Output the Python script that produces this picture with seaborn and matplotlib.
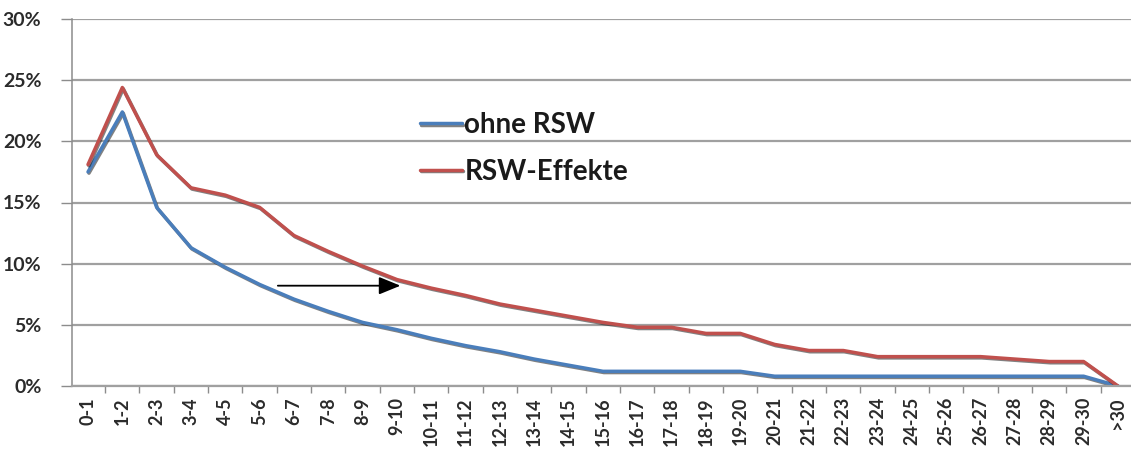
import numpy as np
import pandas as pd
import matplotlib
matplotlib.use("Agg")
import matplotlib.pyplot as plt
import matplotlib.patheffects as pe
from matplotlib.ticker import FixedLocator, PercentFormatter
import seaborn as sns

# distance classes
categories = ["0-1", "1-2", "2-3", "3-4", "4-5", "5-6", "6-7", "7-8", "8-9", "9-10",
              "10-11", "11-12", "12-13", "13-14", "14-15", "15-16", "16-17", "17-18",
              "18-19", "19-20", "20-21", "21-22", "22-23", "23-24", "24-25", "25-26",
              "26-27", "27-28", "28-29", "29-30", ">30"]

# share per class, in percent
ohne_rsw = [17.5, 22.4, 14.6, 11.3, 9.7, 8.3, 7.1, 6.1, 5.2, 4.6,
            3.9, 3.3, 2.8, 2.2, 1.7, 1.2, 1.2, 1.2, 1.2, 1.2,
            0.8, 0.8, 0.8, 0.8, 0.8, 0.8, 0.8, 0.8, 0.8, 0.8, 0.0]
rsw_effekte = [18.1, 24.4, 18.9, 16.2, 15.6, 14.6, 12.3, 11.0, 9.8, 8.7,
               8.0, 7.4, 6.7, 6.2, 5.7, 5.2, 4.8, 4.8, 4.3, 4.3,
               3.4, 2.9, 2.9, 2.4, 2.4, 2.4, 2.4, 2.2, 2.0, 2.0, 0.0]

series_names = ["ohne RSW", "RSW-Effekte"]
colors = ["#4a7ebb", "#c0504d"]

sns.set_theme(style="white")
plt.rcParams["font.family"] = ["Lato", "DejaVu Sans"]

n = len(categories)
df = pd.DataFrame({
    "pos": list(range(n)) * 2,
    "wert": ohne_rsw + rsw_effekte,
    "serie": [series_names[0]] * n + [series_names[1]] * n,
})

W, H = 1131, 454
fig = plt.figure(figsize=(W / 100, H / 100), dpi=100)
ax = fig.add_axes([72 / W, 1 - 386 / H, 1 - 72 / W, (386 - 19) / H])

shadow = [pe.SimpleLineShadow(offset=(0.7, -0.9), shadow_color="#1a1a1a", alpha=0.55),
          pe.Normal()]

sns.lineplot(data=df, x="pos", y="wert", hue="serie", hue_order=series_names,
             palette=colors, linewidth=2.5, sort=False, ax=ax, legend=False,
             path_effects=shadow)

ax.set_xlim(-0.466, 30.38)
ax.set_ylim(0, 30)

# horizontal grid
ax.yaxis.set_major_locator(FixedLocator(np.arange(0, 31, 5)))
ax.yaxis.set_major_formatter(PercentFormatter(decimals=0))
ax.grid(axis="y", color="#a0a0a0", linewidth=1.6)
ax.set_axisbelow(True)

# category labels on x, tick marks at class boundaries
ax.set_xticks(range(n))
ax.set_xticklabels(categories, rotation=90, fontsize=13, fontweight="bold",
                   color="#2b2b2b")
ax.set_xticks(np.arange(0.5, n - 0.5, 1), minor=True)
ax.tick_params(axis="x", which="major", length=0, pad=8)
ax.tick_params(axis="x", which="minor", length=5, width=1, color="#8c8c8c",
               direction="out", bottom=True)
ax.tick_params(axis="y", length=8, width=1, color="#8c8c8c", direction="out",
               left=True, pad=14, labelsize=14, labelcolor="#2b2b2b")
for lbl in ax.get_yticklabels():
    lbl.set_fontweight("bold")

for side in ["top", "right"]:
    ax.spines[side].set_visible(False)
ax.spines["left"].set_color("#8c8c8c")
ax.spines["bottom"].set_color("#a0a0a0")
ax.spines["left"].set_linewidth(1.1)
ax.spines["bottom"].set_linewidth(1.6)
ax.set_xlabel("")
ax.set_ylabel("")

# legend
handles = [plt.Line2D([], [], color=c, linewidth=2.5, path_effects=shadow) for c in colors]
leg = ax.legend(handles, series_names, loc="upper left",
                bbox_to_anchor=(420 / W, 1 - 112 / H), bbox_transform=fig.transFigure,
                frameon=False, borderpad=0, borderaxespad=0,
                handlelength=1.5, handletextpad=0.1, labelspacing=0.75,
                prop={"size": 20, "weight": "bold"})
for t in leg.get_texts():
    t.set_color("#1a1a1a")

# shift arrow between the two curves
ax.annotate("", xy=(9.1, 8.2), xytext=(5.53, 8.2),
            arrowprops=dict(arrowstyle="-|>,head_length=1.1,head_width=0.45",
                            color="black", linewidth=1.3, shrinkA=0, shrinkB=0))

fig.savefig("out.png", dpi=100)
